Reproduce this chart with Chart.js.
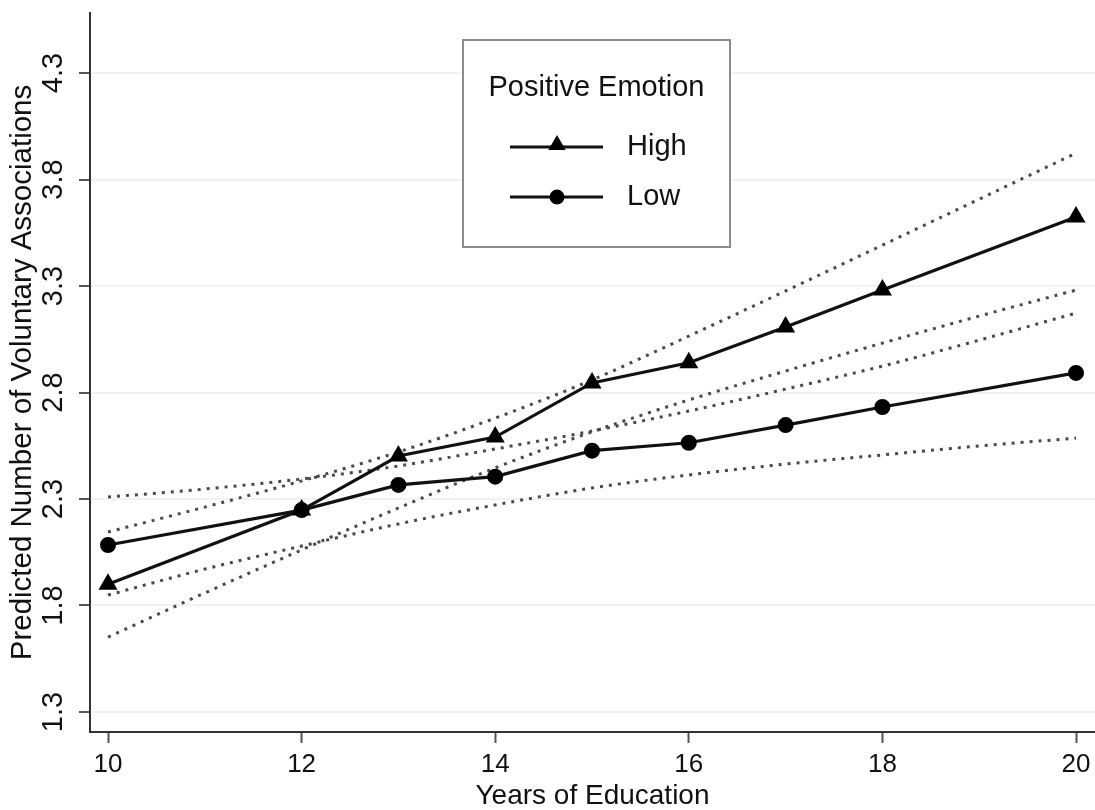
<!DOCTYPE html>
<html>
<head>
<meta charset="utf-8">
<title>Predicted Number of Voluntary Associations</title>
<script src="https://cdn.jsdelivr.net/npm/chart.js@4/dist/chart.umd.min.js"></script>
<style>
  html, body { margin: 0; padding: 0; background: #fff; }
  #wrap { width: 1095px; height: 810px; }
</style>
</head>
<body>
<div id="wrap"><canvas id="chart" width="1095" height="810"></canvas></div>
<script>
// valores
const years = [10, 12, 13, 14, 15, 16, 17, 18, 20];
const highVals = [1.90, 2.248, 2.502, 2.591, 2.845, 2.940, 3.108, 3.281, 3.624];
const lowVals = [2.084, 2.248, 2.366, 2.405, 2.527, 2.564, 2.647, 2.732, 2.892];

// bandas de confianza (líneas punteadas), una lectura por año
const ciYears = [10, 11, 12, 13, 14, 15, 16, 17, 18, 19, 20];
const highUpper = [2.145, 2.262, 2.385, 2.521, 2.680, 2.859, 3.065, 3.277, 3.492, 3.708, 3.924];
const highLower = [1.652, 1.859, 2.061, 2.258, 2.446, 2.615, 2.765, 2.901, 3.032, 3.159, 3.281];
const lowUpper = [2.309, 2.347, 2.394, 2.455, 2.535, 2.619, 2.713, 2.816, 2.924, 3.046, 3.173];
const lowLower = [1.849, 1.971, 2.079, 2.183, 2.272, 2.352, 2.413, 2.464, 2.507, 2.549, 2.586];

const xTicks = [10, 12, 14, 16, 18, 20];
const yTicks = [1.3, 1.8, 2.3, 2.8, 3.3, 3.8, 4.3];
const legendTitle = "Positive Emotion";

const FONT = "'Liberation Sans', Arial, Helvetica, sans-serif";
Chart.defaults.font.family = FONT;
Chart.defaults.color = "#111";

const toXY = (xs, ys) => xs.map((x, i) => ({ x, y: ys[i] }));

function solid(label, vals, style, radius) {
    return {
        label, data: toXY(years, vals), inLegend: true,
        borderColor: "#111", backgroundColor: "#000", borderWidth: 3.2,
        pointStyle: style, pointRadius: radius, pointBorderWidth: 2,
        pointBackgroundColor: "#000", pointBorderColor: "#000",
    };
}
function dotted(label, vals) {
    return {
        label, data: toXY(ciYears, vals),
        borderColor: "#4a4a4a", borderWidth: 3, borderDash: [3, 6],
        pointRadius: 0, cubicInterpolationMode: "monotone", fill: false,
    };
}

// leyenda dibujada dentro del área del gráfico
const legendBox = {
    id: "legendBox",
    afterDraw(chart) {
        const ctx = chart.ctx;
        const left = 463, top = 40, w = 267, h = 207;
        ctx.save();
        ctx.fillStyle = "#fff";
        ctx.fillRect(left, top, w, h);
        ctx.strokeStyle = "#8c8c8c";
        ctx.lineWidth = 2;
        ctx.strokeRect(left, top, w, h);
        ctx.fillStyle = "#111";
        ctx.font = "29px " + FONT;
        ctx.textAlign = "center";
        ctx.textBaseline = "middle";
        ctx.fillText(legendTitle, left + w / 2, 88);
        chart.data.datasets.filter((d) => d.inLegend).forEach((ds, i) => {
            const y = 147 + i * 50;
            ctx.strokeStyle = "#111";
            ctx.lineWidth = 3;
            ctx.beginPath();
            ctx.moveTo(510, y);
            ctx.lineTo(603, y);
            ctx.stroke();
            ctx.fillStyle = "#000";
            ctx.strokeStyle = "#000";
            Chart.helpers.drawPoint(ctx, {
                pointStyle: ds.pointStyle,
                radius: ds.pointStyle === "triangle" ? 7 : 6,
                borderWidth: 1, rotation: 0,
            }, 557, ds.pointStyle === "triangle" ? y - 2 : y);
            ctx.fillStyle = "#111";
            ctx.textAlign = "left";
            ctx.fillText(ds.label, 627, y);
        });
        ctx.restore();
    },
};

new Chart(document.getElementById("chart"), {
    type: "line",
    data: {
        datasets: [
            solid("High", highVals, "triangle", 9),
            solid("Low", lowVals, "circle", 7),
            dotted("High upper", highUpper),
            dotted("High lower", highLower),
            dotted("Low upper", lowUpper),
            dotted("Low lower", lowLower),
        ],
    },
    options: {
        responsive: false,
        animation: false,
        events: [],
        layout: { autoPadding: false, padding: { top: 13, right: 0, left: 0, bottom: 0 } },
        plugins: { legend: { display: false }, tooltip: { enabled: false } },
        scales: {
            x: {
                type: "linear", min: 9.814, max: 20.196,
                afterBuildTicks: (s) => { s.ticks = xTicks.map((v) => ({ value: v })); },
                grid: { drawOnChartArea: false, tickLength: 11, tickColor: "#555", tickWidth: 2 },
                border: { color: "#333", width: 2 },
                ticks: { font: { size: 26 }, padding: 6, maxRotation: 0, callback: (v) => String(v) },
                title: {
                    display: true, text: "Years of Education",
                    font: { size: 28, lineHeight: 1 }, padding: { top: 0, bottom: 0 },
                },
                afterFit: (s) => { s.height = 78; s.paddingLeft = 0; s.paddingRight = 0; },
            },
            y: {
                type: "linear", min: 1.206, max: 4.582,
                afterBuildTicks: (s) => { s.ticks = yTicks.map((v) => ({ value: v })); },
                grid: { color: "#eef4f4", lineWidth: 2, tickLength: 11, tickColor: "#555", tickWidth: 2 },
                border: { color: "#333", width: 2 },
                ticks: {
                    font: { size: 29 }, padding: 4.5, minRotation: 90, maxRotation: 90,
                    crossAlign: "center", callback: (v) => v.toFixed(1),
                },
                title: {
                    display: true, text: "Predicted Number of Voluntary Associations",
                    font: { size: 29.5, lineHeight: 1.2 }, padding: { top: 5, bottom: 0 },
                },
                afterFit: (s) => { s.width = 90; s.paddingTop = 0; s.paddingBottom = 0; },
            },
        },
    },
    plugins: [legendBox],
});
</script>
</body>
</html>
